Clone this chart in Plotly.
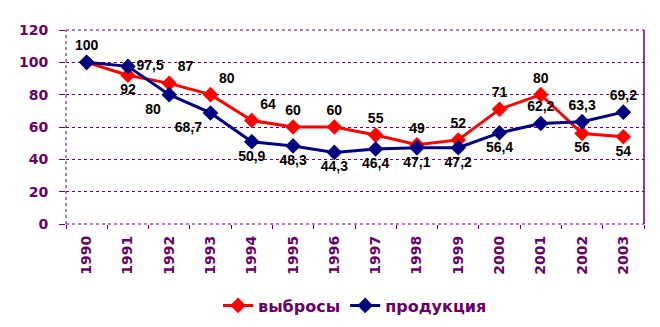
import plotly.graph_objects as go

years = ["1990", "1991", "1992", "1993", "1994", "1995", "1996",
         "1997", "1998", "1999", "2000", "2001", "2002", "2003"]
emissions = [100, 92, 87, 80, 64, 60, 60, 55, 49, 52, 71, 80, 56, 54]
production = [100, 97.5, 80, 68.7, 50.9, 48.3, 44.3, 46.4, 47.1, 47.2, 56.4, 62.2, 63.3, 69.2]

em_pos = ["top center", "bottom center", "top right", "top right", "top right",
          "top center", "top center", "top center", "top center", "top center",
          "top center", "top center", "bottom center", "bottom center"]
pr_pos = ["top center", "middle right", "bottom left", "bottom left", "bottom center",
          "bottom center", "bottom center", "bottom center", "bottom center", "bottom center",
          "bottom center", "top center", "top center", "top center"]


def fmt(v):
    return ("%g" % v).replace(".", ",")


em_text = [fmt(v) for v in emissions]
pr_text = [fmt(v) for v in production]
pr_text[0] = ""

PURPLE = "#660066"
label_font = dict(family="Liberation Sans, Arial", size=14, color="black", weight="bold")

fig = go.Figure()
fig.add_trace(go.Scatter(
    x=years, y=emissions, name="выбросы", mode="lines+markers+text",
    line=dict(color="#ff0000", width=3),
    marker=dict(symbol="diamond", size=12, color="#ff0000"),
    text=em_text, textposition=em_pos, textfont=label_font,
    cliponaxis=False,
))
fig.add_trace(go.Scatter(
    x=years, y=production, name="продукция", mode="lines+markers+text",
    line=dict(color="#000080", width=3),
    marker=dict(symbol="diamond", size=12, color="#000080"),
    text=pr_text, textposition=pr_pos, textfont=label_font,
    cliponaxis=False,
))

tick_font = dict(family="DejaVu Sans", size=14, color=PURPLE, weight="bold")

fig.update_layout(
    width=660, height=327,
    margin=dict(l=58, r=24, t=22, b=111, autoexpand=False),
    paper_bgcolor="white", plot_bgcolor="white",
    showlegend=True,
    legend=dict(orientation="h", x=0.5, xanchor="center", y=-0.42, yanchor="middle",
                font=dict(family="DejaVu Sans", size=16, color=PURPLE, weight="bold"),
                tracegroupgap=0),
    xaxis=dict(
        type="category", range=[-0.5, len(years) - 0.5], autorange=False,
        tickangle=-90, tickfont=tick_font, automargin=False,
        showgrid=False, zeroline=False, showline=False,
        ticks="outside", tickson="boundaries", ticklen=4, tickcolor=PURPLE,
        ticklabelstandoff=8,
    ),
    yaxis=dict(
        range=[0, 120], tickvals=[0, 20, 40, 60, 80, 100, 120], automargin=False,
        tickfont=tick_font, showgrid=True, gridcolor=PURPLE, griddash="dot",
        gridwidth=1, zeroline=False, showline=False,
        ticks="outside", ticklen=6, tickcolor=PURPLE, ticklabelstandoff=8,
    ),
)

# plot-area borders
fig.add_shape(type="line", xref="paper", yref="paper", x0=0, x1=0, y0=0, y1=1,
              line=dict(color=PURPLE, width=1, dash="dot"))
fig.add_shape(type="line", xref="paper", yref="paper", x0=0, x1=1, y0=0, y1=0,
              line=dict(color=PURPLE, width=1, dash="dot"))
fig.add_shape(type="line", xref="paper", yref="paper", x0=1, x1=1, y0=0, y1=1,
              line=dict(color=PURPLE, width=1.5))
fig.add_shape(type="line", xref="paper", yref="paper", x0=0, x1=1, y0=1, y1=1,
              line=dict(color=PURPLE, width=1, dash="dot"))

fig.write_html("out.html")
